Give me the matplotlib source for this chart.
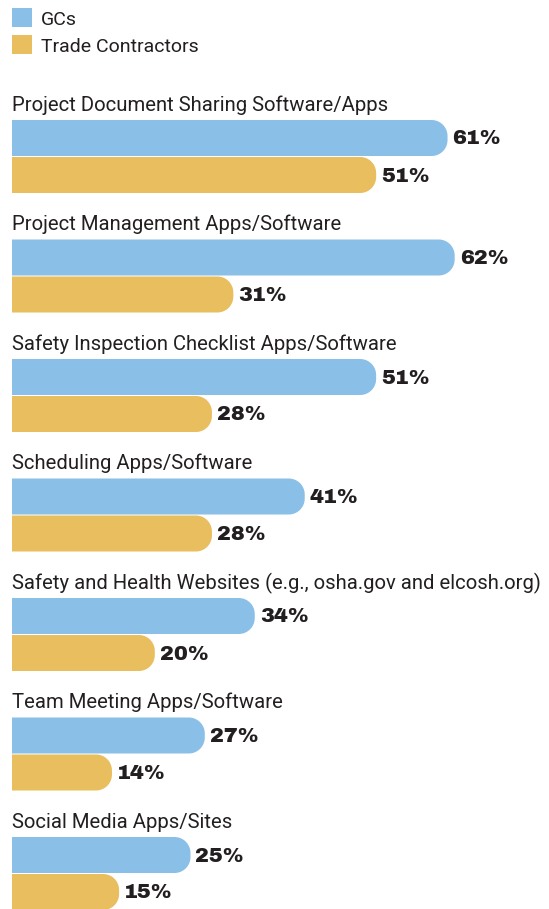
import numpy as np
import matplotlib.pyplot as plt
from matplotlib.patches import Polygon, Rectangle
from matplotlib.font_manager import FontProperties

categories = [
    "Project Document Sharing Software/Apps",
    "Project Management Apps/Software",
    "Safety Inspection Checklist Apps/Software",
    "Scheduling Apps/Software",
    "Safety and Health Websites (e.g., osha.gov and elcosh.org)",
    "Team Meeting Apps/Software",
    "Social Media Apps/Sites",
]
gcs = [61, 62, 51, 41, 34, 27, 25]
trade = [51, 31, 28, 28, 20, 14, 15]
series_names = ["GCs", "Trade Contractors"]

BLUE = "#8AC0E7"
GOLD = "#E8BE5F"
INK = "#231F20"

W, H = 549, 909
fig = plt.figure(figsize=(W / 100, H / 100), dpi=100)
ax = fig.add_axes([0, 0, 1, 1])
ax.axis("off")

# pixel <-> data mapping: 7.14 px per percent, 119.5 px per group
px_per_pct = 7.14
px_per_grp = 119.5
x0_px, y0_px = 12, 138
ax.set_xlim(-x0_px / px_per_pct, (W - x0_px) / px_per_pct)
ax.set_ylim((H - y0_px) / px_per_grp, -y0_px / px_per_grp)

bar_h = 36 / px_per_grp
step = 37 / px_per_grp
rx = 16 / px_per_pct
ry = 16 / px_per_grp

label_font = FontProperties(family=["Roboto", "DejaVu Sans"], size=14.6)
legend_font = FontProperties(family=["Roboto", "DejaVu Sans"], size=14.0)
value_font = FontProperties(family=["Archivo Black", "DejaVu Sans"], size=15.0)

theta = np.linspace(0, np.pi / 2, 20)


def rounded_bar(y, v, color):
    top, bot = y - bar_h / 2, y + bar_h / 2
    # right end: two quarter arcs (y axis is inverted, so top has smaller value)
    upper = np.column_stack([v - rx + rx * np.sin(theta), top + ry - ry * np.cos(theta)])
    lower = np.column_stack([v - rx + rx * np.cos(theta), bot - ry + ry * np.sin(theta)])
    pts = np.vstack([[0, top], upper, lower, [0, bot]])
    ax.add_patch(Polygon(pts, closed=True, fc=color, ec="none", lw=0))


for i, (cat, g, t) in enumerate(zip(categories, gcs, trade)):
    yb = i
    yt = i + step
    rounded_bar(yb, g, BLUE)
    rounded_bar(yt, t, GOLD)
    ax.text(0, yb - bar_h / 2 - 9 / px_per_grp, cat, fontproperties=label_font,
            color=INK, ha="left", va="baseline")
    ax.text(g + 5 / px_per_pct, yb + 1 / px_per_grp, f"{g}%", fontproperties=value_font,
            color=INK, ha="left", va="center")
    ax.text(t + 5 / px_per_pct, yt + 1 / px_per_grp, f"{t}%", fontproperties=value_font,
            color=INK, ha="left", va="center")

# legend
for k, (name, col) in enumerate(zip(series_names, [BLUE, GOLD])):
    ytop = (8 + k * 27 - y0_px) / px_per_grp
    ax.add_patch(Rectangle((0, ytop), 20 / px_per_pct, 19 / px_per_grp, fc=col, ec="none"))
    ax.text(29 / px_per_pct, ytop + 17 / px_per_grp, name, fontproperties=legend_font,
            color=INK, ha="left", va="baseline")

fig.savefig("out.png", dpi=100)
